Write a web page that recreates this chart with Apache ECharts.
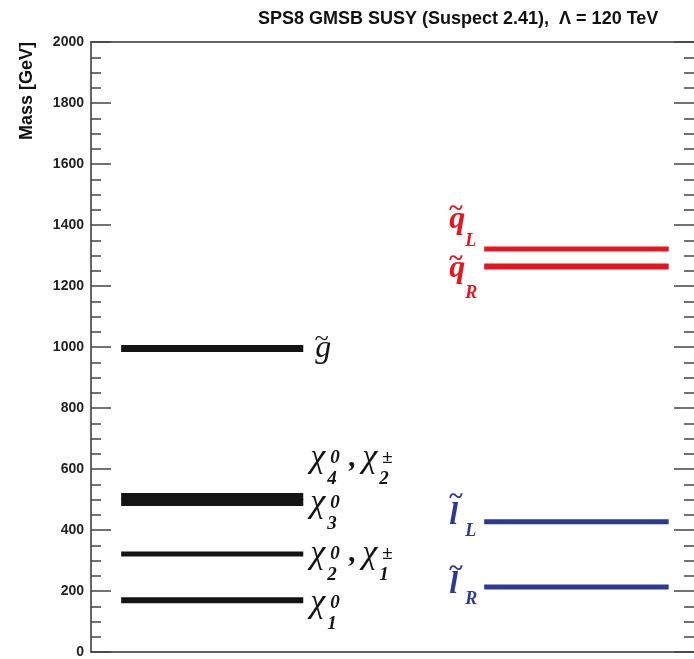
<!DOCTYPE html>
<html><head><meta charset="utf-8">
<script src="https://cdn.jsdelivr.net/npm/echarts@6/dist/echarts.min.js"></script>
<style>html,body{margin:0;padding:0;background:#fff}#c{width:694px;height:659px}</style>
</head><body><div id="c"></div>
<script>
// ---------------- data ----------------
const titleText = 'SPS8 GMSB SUSY (Suspect 2.41),  \u039B = 120 TeV';
const yAxisName = 'Mass [GeV]';
const yMin = 0, yMax = 2000, yStep = 200;

// gauginos / gluino (black)
const gauginoKeys   = ['gluino', 'chi4_chi2pm', 'chi3', 'chi2_chi1pm', 'chi1'];
const gauginoMasses = [995, 510, 490, 321, 170];
// squarks (red)
const squarkKeys   = ['sqL', 'sqR'];
const squarkMasses = [1321, 1264];
// sleptons (blue)
const sleptonKeys   = ['slL', 'slR'];
const sleptonMasses = [427, 213];

// ---------------- styling / layout ----------------
const BLACK = '#141414', RED = '#e5161f', BLUE = '#2c3a91', AXIS = '#333';
const X_LEFT = [50, 352], X_RIGHT = [652, 958];
const SERIF = 'Liberation Serif';
const SANS = 'Liberation Sans';

function tok(size, weight, color, padTop, width, extra) {
  return Object.assign({
    fontFamily: SERIF, fontStyle: 'italic', fontWeight: weight, fontSize: size,
    color: color, verticalAlign: 'top', align: 'left', height: 20,
    padding: [padTop, 0, 0, 0], width: width
  }, extra || {});
}

const labelDefs = {
  gluino: { text: '{s| }{tl|~}{g|g}', dy: -4.5, rich: {
    s: tok(10, 'normal', BLACK, 0, 4), tl: tok(26, 'normal', BLACK, 0, 1), g: tok(32, 'normal', BLACK, 10, 16) } },
  chi4_chi2pm: { text: '{c|\u03C7}{sb|4}{sp|0}{s| }{cm|,}{c|\u03C7}{sb|2}{sp|\u00B1}', dy: -28 },
  chi3: { text: '{c|\u03C7}{sb|3}{sp|0}', dy: 11 },
  chi2_chi1pm: { text: '{c|\u03C7}{sb|2}{sp|0}{s| }{cm|,}{c|\u03C7}{sb|1}{sp|\u00B1}', dy: 10 },
  chi1: { text: '{c|\u03C7}{sb|1}{sp|0}', dy: 13 },
  sqL: { text: '{s| }{tl|~}{q|q}{sb|L}', dy: -24, p1: 11, p2: 32 },
  sqR: { text: '{s| }{tl|~}{q|q}{sb|R}', dy: 9.4, p1: 10, p2: 34 },
  slL: { text: '{s| }{tl|~}{q|l}{sb|L}', dy: -7, p1: 18, p2: 34 },
  slR: { text: '{s| }{tl|~}{q|l}{sb|R}', dy: -3, p1: 16, p2: 30 }
};
function chiRich() {
  return {
    c: tok(34, 'normal', BLACK, 0, 17),
    sb: tok(19, 'bold', BLACK, 21, 3),
    sp: tok(19, 'bold', BLACK, 0, 12),
    s: tok(10, 'normal', BLACK, 0, 7),
    cm: tok(30, 'bold', BLACK, 0, 13)
  };
}
function sfRich(color, p1, p2) {
  return {
    s: tok(10, 'normal', color, 0, 3),
    tl: tok(26, 'bold', color, 0, 1),
    q: tok(32, 'bold', color, p1, 16),
    sb: tok(18, 'bold', color, p2, 13)
  };
}

function levelSeries(key, mass, xr, width, color, side) {
  const d = labelDefs[key];
  const rich = d.rich || (side === 'right' ? chiRich() : sfRich(color, d.p1, d.p2));
  const lbl = { show: true, position: side, distance: side === 'right' ? 7 : 6, offset: [0, d.dy],
                formatter: d.text, rich: rich, color: color };
  const p0 = { value: [xr[0], mass] }, p1 = { value: [xr[1], mass] };
  if (side === 'right') p1.label = lbl; else p0.label = lbl;
  return {
    type: 'line', name: key, data: [p0, p1], symbol: 'circle', symbolSize: 0, showSymbol: true,
    silent: true, animation: false, label: { show: false },
    lineStyle: { width: width, color: color, cap: 'butt' }, itemStyle: { color: color },
    emphasis: { disabled: true }, z: 3
  };
}

const gauginoWidths = [7, 7, 7, 5, 6];
const series = [];
gauginoKeys.forEach((k, i) => series.push(levelSeries(k, gauginoMasses[i], X_LEFT, gauginoWidths[i], BLACK, 'right')));
squarkKeys.forEach((k, i) => series.push(levelSeries(k, squarkMasses[i], X_RIGHT, i === 0 ? 5 : 6, RED, 'left')));
sleptonKeys.forEach((k, i) => series.push(levelSeries(k, sleptonMasses[i], X_RIGHT, 5, BLUE, 'left')));

function yAxisCfg(pos, showLine, showLabel) {
  return {
    type: 'value', position: pos, min: yMin, max: yMax, interval: yStep,
    axisLine: { show: showLine, onZero: false, lineStyle: { color: AXIS, width: 1.5 } },
    axisTick: { show: true, inside: true, length: 20, lineStyle: { color: '#444', width: 1.5 } },
    minorTick: { show: true, splitNumber: 4, length: 10, lineStyle: { color: '#444', width: 1.5 } },
    splitLine: { show: false }, minorSplitLine: { show: false },
    axisLabel: { show: showLabel, margin: 7, fontFamily: SANS, fontWeight: 'bold', fontSize: 14, color: '#222',
                 formatter: v => String(v) }
  };
}
function xAxisCfg(pos) {
  return { type: 'value', position: pos, min: 0, max: 1000,
    axisLine: { show: true, onZero: false, lineStyle: { color: AXIS, width: 1.5 } },
    axisTick: { show: false }, axisLabel: { show: false }, splitLine: { show: false } };
}

const chart = echarts.init(document.getElementById('c'), null, { renderer: 'canvas' });
chart.setOption({
  animation: false,
  backgroundColor: '#fff',
  title: { text: titleText, left: 258, top: 10, padding: 0,
    textStyle: { fontFamily: SANS, fontWeight: 'bold', fontSize: 18, color: '#111' } },
  grid: { left: 91, right: 0, top: 42, bottom: 4, containLabel: false },
  xAxis: [xAxisCfg('bottom'), xAxisCfg('top')],
  yAxis: [yAxisCfg('left', true, true), yAxisCfg('right', false, false)],
  graphic: [{ type: 'text', x: 27, y: 91, rotation: Math.PI / 2, silent: true,
    style: { text: yAxisName, fontFamily: SANS, fontWeight: 'bold', fontSize: 18,
             fill: '#111', align: 'center', verticalAlign: 'middle' } }],
  series: series
});
</script></body></html>
